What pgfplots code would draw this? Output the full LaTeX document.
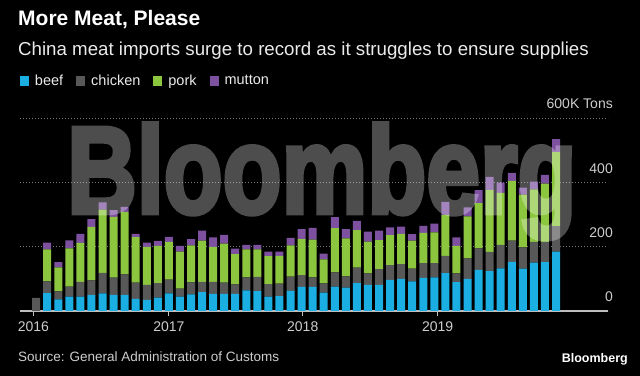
\documentclass[border=0pt]{standalone}
\usepackage{fontspec}
\setmainfont{Liberation Sans}
\newfontfamily\wmfont{Liberation Sans Bold}[FakeBold=4]
\usepackage{pgfplots}
\usepackage{pgfplotstable}
\pgfplotsset{compat=1.18}
\definecolor{beef}{RGB}{27,174,226}
\definecolor{chicken}{RGB}{88,88,88}
\definecolor{pork}{RGB}{140,198,63}
\definecolor{mutton}{RGB}{125,80,160}
\definecolor{lbl}{RGB}{205,205,205}
\definecolor{gridc}{RGB}{120,120,120}
\definecolor{axc}{RGB}{190,190,190}
\pgfplotstableread{
i beef chicken pork mutton
0 0 41 0 0
1 56 36 100 21
2 36 25 75 16
3 45 31 119 25
4 45 46 121 28
5 50 45 167 24
6 55 64 197 22
7 50 54 189 21
8 50 64 195 15
9 38 50 142 10
10 35 46 119 13
11 42 45 116 15
12 55 43 117 16
13 45 25 115 18
14 52 37 115 20
15 59 32 128 31
16 53 38 109 29
17 53 35 122 27
18 53 30 94 17
19 64 41 87 14
20 62 44 86 14
21 45 39 87 14
22 46 39 87 13
23 63 44 97 24
24 75 37 112 31
25 75 30 117 37
26 57 29 75 18
27 76 44 138 34
28 73 35 118 29
29 87 48 117 29
30 81 36 99 31
31 81 49 91 29
32 97 46 93 24
33 100 46 94 23
34 92 40 87 20
35 103 46 94 22
36 105 44 96 27
37 118 54 127 41
38 90 27 86 26
39 100 64 131 28
40 128 67 141 40
41 124 60 193 41
42 133 73 162 32
43 153 66 186 25
44 132 66 164 22
45 151 64 164 24
46 152 63 182 27
47 185 79 231 40
}\meat
\pgfplotsset{sq legend/.style={legend image code/.code={\fill[##1] (0bp,-4.5bp) rectangle (9bp,4.5bp);}}}
\begin{document}
\begin{tikzpicture}
\path[use as bounding box] (0bp,0bp) rectangle (640bp,376bp);
\fill[black] (0bp,0bp) rectangle (640bp,376bp);
\node[anchor=base west, inner sep=0pt, text=white, font=\fontsize{21bp}{24bp}\selectfont\bfseries] at (18bp,350bp) {More Meat, Please};
\node[anchor=base west, inner sep=0pt, text=white!92!black, font=\fontsize{18.7bp}{22bp}\selectfont] at (18bp,320bp) {China meat imports surge to record as it struggles to ensure supplies};
\begin{axis}[
  at={(20bp,65bp)}, anchor=south west,
  scale only axis, width=588bp, height=192.7bp,
  xmin=-1.46, xmax=51.7, ymin=0, ymax=600,
  enlargelimits=false,
  ybar stacked, bar width=8bp,
  axis x line*=bottom, axis y line*=right,
  x axis line style={draw=axc, line width=1.2bp},
  y axis line style={draw=none},
  xtick={-0.25,12,24.1,36.3}, xticklabels={2016,2017,2018,2019},
  ytick={0,200,400,600}, yticklabels={0,200,400,600K Tons},
  tick align=outside, major tick length=5bp,
  xtick style={draw=axc, line width=1bp},
  ytick style={draw=none},
  /pgf/number format/assume math mode=true,
  tick label style={font=\fontsize{14bp}{16bp}\selectfont, text=lbl},
  xticklabel style={anchor=north, inner sep=0pt, yshift=-6bp},
  yticklabel style={anchor=south east, inner sep=0pt, yshift=9bp},
  ymajorgrids, major grid style={draw=gridc, line width=0.8bp, dash pattern=on 1.2bp off 1.8bp},
  legend columns=4,
  legend style={draw=none, fill=none, at={(0,1.1936)}, anchor=west, inner sep=0pt, outer sep=0pt,
    font=\fontsize{14.5bp}{16bp}\selectfont, text=white!92!black,
    nodes={inner sep=0pt},
    /tikz/every odd column/.append style={column sep=6bp},
    /tikz/every even column/.append style={column sep=13bp}},
]
\addplot[fill=beef, draw=none, sq legend] table[x=i, y=beef] {\meat};
\addplot[fill=chicken, draw=none, sq legend] table[x=i, y=chicken] {\meat};
\addplot[fill=pork, draw=none, sq legend] table[x=i, y=pork] {\meat};
\addplot[fill=mutton, draw=none, sq legend] table[x=i, y=mutton] {\meat};
\legend{beef, chicken, pork, mutton}
\end{axis}
\begin{scope}[transparency group, opacity=0.3]
\node[anchor=base west, inner sep=0pt, text=white, font=\fontsize{96.5bp}{100bp}\selectfont\wmfont, yscale=1.28] at (67bp,163bp) {Bloomberg};
\end{scope}
\node[anchor=base west, inner sep=0pt, text=lbl, font=\fontsize{13.5bp}{16bp}\selectfont] at (18bp,15bp) {Source: General Administration of Customs};
\node[anchor=base east, inner sep=0pt, text=white, font=\fontsize{12.5bp}{14bp}\selectfont\bfseries] at (628bp,14bp) {Bloomberg};
\end{tikzpicture}
\end{document}
